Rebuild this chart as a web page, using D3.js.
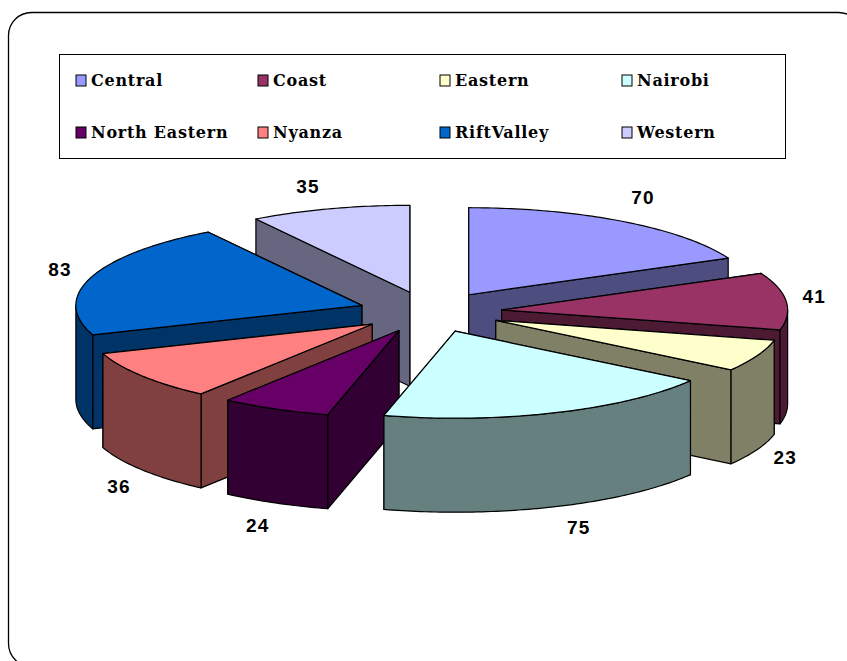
<!DOCTYPE html>
<html><head><meta charset="utf-8">
<script src="https://cdn.jsdelivr.net/npm/d3@7/dist/d3.min.js"></script>
<style>html,body{margin:0;padding:0;background:#fff;overflow:hidden}svg{display:block}</style>
</head><body><svg id="c" width="847" height="661"></svg>
<script>
const categories = ["Central","Coast","Eastern","Nairobi","North Eastern","Nyanza","RiftValley","Western"];
const values = [70,41,23,75,24,36,83,35];
const colors = ["#9999FF","#993366","#FFFFCC","#CCFFFF","#660066","#FF8080","#0066CC","#CCCCFF"];
const paintOrder = ["Western","Central","Coast","RiftValley","Eastern","Nyanza","North Eastern","Nairobi"];
const labelNudges = [[21,-20],[29,-4],[29,100],[24,110],[-18,112],[-24,107],[-32,-7],[-22,-18]];

const W=847,H=661, cx=430, cy=312, R=286, RY=87, depth=94, explode=72, explodeY=20.5;
const svg=d3.select("#c");
svg.append("rect").attr("x",8.5).attr("y",12.5).attr("width",853).attr("height",654).attr("rx",23)
  .attr("fill","#fff").attr("stroke","#000").attr("stroke-width",1.3);

// legend
svg.append("rect").attr("x",59.5).attr("y",54.5).attr("width",726).attr("height",104)
  .attr("fill","#fff").attr("stroke","#000");
const colX=d3.scaleLinear().domain([0,1]).range([76,258]);
const rowY=d3.scaleLinear().domain([0,1]).range([80,132]);
const lg=svg.append("g").selectAll("g").data(categories).join("g")
  .attr("transform",(d,i)=>`translate(${colX(i%4)},${rowY(Math.floor(i/4))})`);
lg.append("rect").attr("x",0).attr("y",-5).attr("width",10).attr("height",11)
  .attr("fill",(d,i)=>colors[i]).attr("stroke","#000");
lg.append("text").attr("x",15).attr("y",6).text(d=>d)
  .attr("font-family","'DejaVu Serif',serif").attr("font-weight","bold")
  .attr("font-size",16).attr("letter-spacing",0.75).attr("fill","#000");

// pie
const pie=d3.pie().sort(null).value((d,i)=>values[i]);
const arcs=pie(categories).map((a,i)=>{
  const mid=(a.startAngle+a.endAngle)/2;
  return {...a,i,mid,ax:cx+explode*Math.sin(mid),ay:cy-explodeY*Math.cos(mid)};
});
const pt=(s,a)=>[s.ax+R*Math.sin(a),s.ay-RY*Math.cos(a)];
const line=d3.line();
const sample=(a0,a1)=>{const n=Math.max(2,Math.ceil(Math.abs(a1-a0)*60));return d3.range(n+1).map(k=>a0+(a1-a0)*k/n);};
const wallCol=c=>{const r=d3.rgb(c);return d3.rgb(r.r/2,r.g/2,r.b/2).formatHex();};
const down=p=>[p[0],p[1]+depth];
const gp=svg.append("g").attr("stroke","#000").attr("stroke-width",1.2).attr("stroke-linejoin","round");

const drawOrder=paintOrder.map(n=>arcs[categories.indexOf(n)]);
gp.selectAll("g").data(drawOrder).join("g").each(function(s){
  const g=d3.select(this), wc=wallCol(colors[s.i]);
  const apex=[s.ax,s.ay];
  const radial=[s.startAngle,s.endAngle].sort((a,b)=>pt(s,a)[1]-pt(s,b)[1]);
  radial.forEach(a=>{
    const o=pt(s,a);
    g.append("path").attr("fill",wc).attr("d",line([apex,o,down(o),down(apex)])+"Z");
  });
  const f0=Math.max(s.startAngle,Math.PI/2), f1=Math.min(s.endAngle,3*Math.PI/2);
  if(f1>f0){
    const top=sample(f0,f1).map(a=>pt(s,a));
    g.append("path").attr("fill",wc).attr("d",line(top.concat(top.map(down).reverse()))+"Z");
  }
  const rim=sample(s.startAngle,s.endAngle).map(a=>pt(s,a));
  g.append("path").attr("fill",colors[s.i]).attr("d",line([apex].concat(rim))+"Z");
});

// value labels
svg.append("g").selectAll("text").data(arcs).join("text")
  .attr("x",s=>430+357*Math.sin(s.mid)+labelNudges[s.i][0])
  .attr("y",s=>312-112.3*Math.cos(s.mid)+labelNudges[s.i][1])
  .attr("dy","0.36em").attr("text-anchor","middle").text(s=>values[s.i])
  .attr("font-family","'Liberation Sans',sans-serif").attr("font-weight","bold")
  .attr("font-size",19).attr("letter-spacing",1.2).attr("fill","#000");
</script></body></html>
